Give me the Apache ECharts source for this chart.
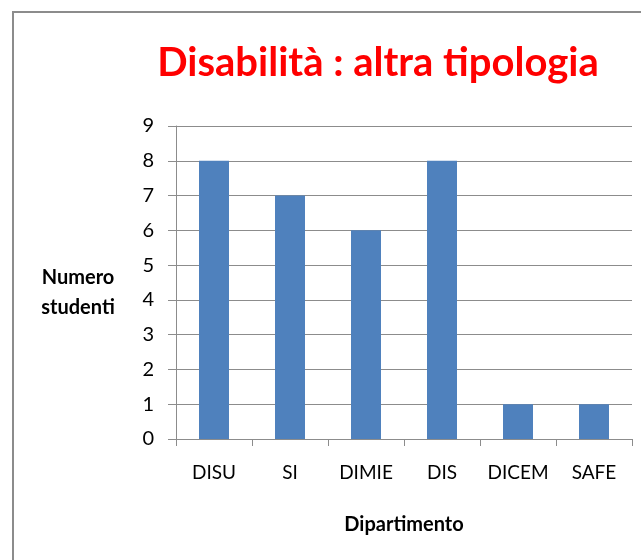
<!DOCTYPE html>
<html><head><meta charset="utf-8">
<script src="https://cdn.jsdelivr.net/npm/echarts@6/dist/echarts.min.js"></script>
<style>html,body{margin:0;padding:0;background:#fff;}#c{width:641px;height:560px;}</style>
</head><body><div id="c"></div>
<script>
const categories = ['DISU', 'SI', 'DIMIE', 'DIS', 'DICEM', 'SAFE'];
const values = [8, 7, 6, 8, 1, 1];
const yTicks = [0, 1, 2, 3, 4, 5, 6, 7, 8, 9];
const titleText = 'Disabilità : altra tipologia';
const yName = 'Numero\nstudenti';
const xName = 'Dipartimento';

const chart = echarts.init(document.getElementById('c'), null, {renderer: 'canvas'});
const F = 'Lato, "Open Sans", sans-serif';
chart.setOption({
  animation: false,
  backgroundColor: '#fff',
  graphic: [
    {type: 'rect', shape: {x: 13, y: 12, width: 700, height: 600}, style: {fill: 'none', stroke: '#8c8c8c', lineWidth: 2}, z: 100},
    {type: 'text', style: {x: 78, y: 293, text: yName, font: 'bold 20px ' + F, fill: '#000', align: 'center', verticalAlign: 'middle', lineHeight: 30}}
  ],
  title: {
    text: titleText, left: 373, top: 38, textAlign: 'center',
    textStyle: {color: '#ff0000', fontSize: 40, fontWeight: 'bold', fontFamily: F}
  },
  grid: {left: 176, right: 641 - 632, top: 126, bottom: 560 - 439, containLabel: false},
  xAxis: {
    type: 'category', data: categories,
    name: xName, nameLocation: 'middle', nameGap: 76,
    nameTextStyle: {fontSize: 20, fontWeight: 'bold', fontFamily: F, color: '#000'},
    axisLine: {lineStyle: {color: '#8c8c8c', width: 1}},
    axisTick: {show: true, length: 7, lineStyle: {color: '#8c8c8c'}},
    axisLabel: {interval: 0, fontSize: 19, fontFamily: F, color: '#000', margin: 24},
    splitLine: {show: false}
  },
  yAxis: {
    type: 'value', min: 0, max: 9, interval: 1,
    axisLine: {show: true, lineStyle: {color: '#8c8c8c', width: 1}},
    axisTick: {show: true, length: 8, lineStyle: {color: '#8c8c8c'}},
    axisLabel: {fontSize: 20, fontFamily: F, color: '#000', margin: 22},
    splitLine: {show: true, lineStyle: {color: '#8c8c8c', width: 1}}
  },
  series: [{
    type: 'bar', data: values, barWidth: 30,
    itemStyle: {color: '#4f81bd'}
  }]
});
</script></body></html>
